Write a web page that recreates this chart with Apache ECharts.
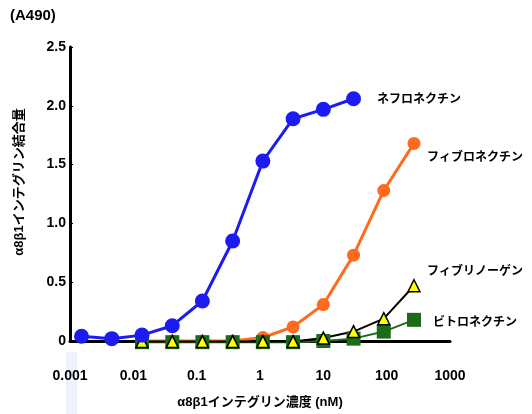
<!DOCTYPE html>
<html><head><meta charset="utf-8">
<script src="https://cdn.jsdelivr.net/npm/echarts@6/dist/echarts.min.js"></script>
<style>html,body{margin:0;padding:0;background:#fff}#c{width:532px;height:414px}</style>
</head><body><div id="c"></div>
<script>
const xTickLabels = ['0.001','0.01','0.1','1','10','100','1000'];
const yTickLabels = ['0','0.5','1.0','1.5','2.0','2.5'];
const concBlue = [0.00152,0.00457,0.0137,0.0412,0.123,0.370,1.11,3.33,10,30];
const nephronectin = [0.04,0.02,0.05,0.13,0.34,0.85,1.53,1.89,1.97,2.06];
const conc = [0.0137,0.0412,0.123,0.370,1.11,3.33,10,30,90,270];
const fibronectin = [0.0,0.0,0.0,0.0,0.03,0.12,0.31,0.73,1.28,1.68];
const fibrinogen = [-0.005,-0.005,-0.005,-0.005,-0.005,-0.005,0.025,0.08,0.19,0.47];
const vitronectin = [-0.01,-0.01,-0.01,-0.01,-0.01,-0.01,0.0,0.02,0.08,0.18];
const seriesNames = ['ネフロネクチン','フィブロネクチン','フィブリノーゲン','ビトロネクチン'];

const FONT = '"Liberation Sans","Noto Sans CJK JP",sans-serif';
const pair = (xs, ys) => xs.map((x, i) => [x, ys[i]]);
const chart = echarts.init(document.getElementById('c'));
chart.setOption({
  animation: false,
  grid: {left: 70, right: 82, top: 47, bottom: 66},
  xAxis: {
    type: 'log', logBase: 10, min: 0.001, max: 1000,
    axisLine: {lineStyle: {color: '#000', width: 3}},
    axisTick: {show: false},
    splitLine: {show: false},
    axisLabel: {
      color: '#000', fontWeight: 'bold', fontSize: 14, fontFamily: FONT, margin: 28,
      formatter: v => xTickLabels[Math.round(Math.log10(v)) + 3]
    },
    name: 'α8β1インテグリン濃度 (nM)', nameLocation: 'middle', nameGap: 55,
    nameTextStyle: {color: '#000', fontWeight: 'bold', fontSize: 13, fontFamily: FONT}
  },
  yAxis: {
    type: 'value', min: 0, max: 2.5, interval: 0.5,
    axisLine: {show: true, lineStyle: {color: '#000', width: 3}},
    axisTick: {show: true, inside: true, length: 3, lineStyle: {color: '#000', width: 1}},
    splitLine: {show: false},
    axisLabel: {
      color: '#000', fontWeight: 'bold', fontSize: 14, fontFamily: FONT, margin: 4,
      formatter: v => yTickLabels[Math.round(v / 0.5)]
    },
    name: 'α8β1インテグリン結合量', nameLocation: 'middle', nameGap: 44,
    nameTextStyle: {color: '#000', fontWeight: 'bold', fontSize: 13, fontFamily: FONT, padding: [0, 0, 0, 24]}
  },
  series: [
    {name: seriesNames[1], type: 'line', data: pair(conc, fibronectin), clip: false,
     symbol: 'circle', symbolSize: 13, itemStyle: {color: '#ff6a1e'},
     lineStyle: {color: '#ff6a1e', width: 3}},
    {name: seriesNames[3], type: 'line', data: pair(conc, vitronectin), clip: false,
     symbol: 'rect', symbolSize: 14, itemStyle: {color: '#1b6b1b'},
     lineStyle: {color: '#1b6b1b', width: 2}},
    {name: seriesNames[2], type: 'line', data: pair(conc, fibrinogen), clip: false,
     symbol: 'triangle', symbolSize: 12,
     itemStyle: {color: '#ffff00', borderColor: '#000', borderWidth: 1.5},
     lineStyle: {color: '#000', width: 2}},
    {name: seriesNames[0], type: 'line', data: pair(concBlue, nephronectin), clip: false,
     symbol: 'circle', symbolSize: 15, itemStyle: {color: '#1c1cf2'},
     lineStyle: {color: '#1c1cf2', width: 3}}
  ],
  graphic: [
    {type: 'rect', left: 66, top: 352, shape: {width: 11, height: 62}, style: {fill: '#eef2fc'}, z: -1},
    {type: 'text', left: 10, top: 8, style: {text: '(A490)', font: 'bold 15px ' + FONT, fill: '#000'}},
    {type: 'text', left: 377, top: 94, style: {text: seriesNames[0], font: 'bold 12px ' + FONT, fill: '#000'}},
    {type: 'text', left: 427, top: 152, style: {text: seriesNames[1], font: 'bold 12px ' + FONT, fill: '#000'}},
    {type: 'text', left: 427, top: 266, style: {text: seriesNames[2], font: 'bold 12px ' + FONT, fill: '#000'}},
    {type: 'text', left: 433, top: 317, style: {text: seriesNames[3], font: 'bold 12px ' + FONT, fill: '#000'}}
  ]
});
</script></body></html>
